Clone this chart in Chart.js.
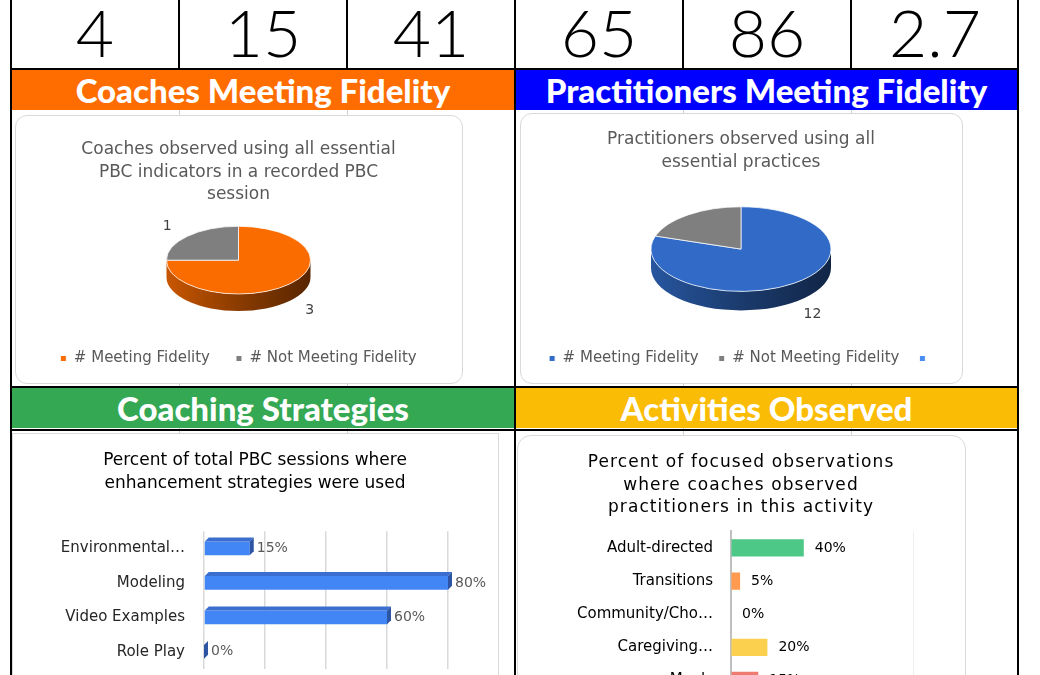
<!DOCTYPE html>
<html>
<head>
<meta charset="utf-8">
<script src="https://cdn.jsdelivr.net/npm/chart.js@4.4.1/dist/chart.umd.min.js"></script>
<style>
  html, body { margin: 0; padding: 0; background: #fff; overflow: hidden; }
  body { width: 1040px; height: 675px; position: relative; font-family: Lato, sans-serif; }
  .line { position: absolute; background: #000; }
  .faint { position: absolute; width: 1px; top: 110px; height: 565px; background: #d0d0d0; }
  .cell { position: absolute; top: 0; height: 68px; width: 166px; text-align: center; font-size: 66px; font-weight: 300; line-height: 64px; color: #000; }
  .band { position: absolute; height: 40px; color: #fff; font-weight: 900; font-size: 33px; line-height: 40px; text-align: center; }
  .box { position: absolute; background: #fff; border: 1px solid #d9d9d9; box-sizing: border-box; }
  canvas { position: absolute; }
</style>
</head>
<body>

<div class="faint" style="left:179px"></div>
<div class="faint" style="left:347px"></div>
<div class="faint" style="left:683px"></div>
<div class="faint" style="left:851px"></div>

<div id="numbers"></div>

<div class="band" style="left:12px; top:70px; width:502px; background:#FF6D01">Coaches Meeting Fidelity</div>
<div class="band" style="left:516px; top:70px; width:501px; background:#0000FF">Practitioners Meeting Fidelity</div>
<div class="band" style="left:12px; top:388px; width:502px; background:#34A853">Coaching Strategies</div>
<div class="band" style="left:516px; top:388px; width:501px; background:#FBBC05">Activities Observed</div>

<div class="box" style="left:15px; top:115px; width:448px; height:269px; border-radius:12px"></div>
<div class="box" style="left:520px; top:113px; width:443px; height:271px; border-radius:12px"></div>
<div class="box" style="left:12px; top:433px; width:487px; height:300px"></div>
<div class="box" style="left:517px; top:435px; width:449px; height:300px; border-radius:14px"></div>

<canvas id="coachPie" width="447" height="268" style="left:15px; top:115px"></canvas>
<canvas id="practPie" width="442" height="270" style="left:520px; top:113px"></canvas>
<canvas id="strategyBars" width="486" height="260" style="left:12px; top:433px"></canvas>
<canvas id="activityBars" width="448" height="280" style="left:517px; top:435px"></canvas>

<!-- table rules -->
<div class="line" style="left:10px; top:0; width:2px; height:675px"></div>
<div class="line" style="left:1017px; top:0; width:2px; height:675px"></div>
<div class="line" style="left:514px; top:0; width:2px; height:675px"></div>
<div class="line" style="left:178px; top:0; width:2px; height:68px"></div>
<div class="line" style="left:346px; top:0; width:2px; height:68px"></div>
<div class="line" style="left:682px; top:0; width:2px; height:68px"></div>
<div class="line" style="left:850px; top:0; width:2px; height:68px"></div>
<div class="line" style="left:10px; top:68px; width:1009px; height:2px"></div>
<div class="line" style="left:10px; top:386px; width:1009px; height:2px"></div>
<div class="line" style="left:10px; top:429px; width:1009px; height:2px"></div>

<script>
const headerNumbers = ['4', '15', '41', '65', '86', '2.7']

const fidelityLabels = ['# Meeting Fidelity', '# Not Meeting Fidelity']
const coachFidelity = [3, 1]
const coachValueText = ['3', '1']

const practFidelityLabels = ['# Meeting Fidelity', '# Not Meeting Fidelity', '']
const practFidelity = [12, 3, 0]
const practValueText = ['12', '', '']

const strategyLabels = ['Environmental…', 'Modeling', 'Video Examples', 'Role Play']
const strategyPercent = [15, 80, 60, 0]

const activityLabels = ['Adult-directed', 'Transitions', 'Community/Cho…', 'Caregiving…', 'Meals']
const activityPercent = [40, 5, 0, 20, 15]
const activityColors = ['#4DC886', '#FF9A4E', '#6FA8DC', '#FBD04E', '#EE7B6F']

// top row of numbers
const numbersRow = document.getElementById('numbers')
headerNumbers.forEach((num, i) => {
  const cell = document.createElement('div')
  cell.className = 'cell'
  cell.style.left = 12 + i * 168 + 'px'
  cell.textContent = num
  numbersRow.appendChild(cell)
})

const chartFont = '"DejaVu Sans", sans-serif'
Chart.defaults.font.family = chartFont
Chart.defaults.animation = false

function shade(hex, f) {
  const n = parseInt(hex.slice(1), 16)
  const r = Math.round(((n >> 16) & 255) * f)
  const g = Math.round(((n >> 8) & 255) * f)
  const b = Math.round((n & 255) * f)
  return `rgb(${r}, ${g}, ${b})`
}

// pie flattened to look like the 3D pie, with a side wall
const squashPie = {
  id: 'squashPie',
  beforeDatasetsDraw(chart, args, opts) {
    const ctx = chart.ctx
    const arcs = chart.getDatasetMeta(0).data
    const colors = chart.data.datasets[0].backgroundColor
    const { x, y, outerRadius: r } = arcs[0]
    const k = opts.squash
    const depth = opts.depth / k
    ctx.save()
    ctx.translate(x, y + opts.lift)
    ctx.scale(1, k)
    ctx.translate(-x, -y)
    arcs.forEach((arc, i) => {
      const a0 = Math.max(arc.startAngle, 0)
      const a1 = Math.min(arc.endAngle, Math.PI)
      if (a1 <= a0) return
      const grad = ctx.createLinearGradient(x - r, 0, x + r, 0)
      grad.addColorStop(0, shade(colors[i], 0.8))
      grad.addColorStop(0.5, shade(colors[i], 0.55))
      grad.addColorStop(1, shade(colors[i], 0.35))
      ctx.fillStyle = grad
      ctx.beginPath()
      ctx.arc(x, y, r, a0, a1)
      ctx.arc(x, y + depth, r, a1, a0, true)
      ctx.closePath()
      ctx.fill()
    })
  },
  afterDatasetsDraw(chart, args, opts) {
    const ctx = chart.ctx
    ctx.restore()
    const arcs = chart.getDatasetMeta(0).data
    ctx.save()
    ctx.font = `14px ${chartFont}`
    ctx.fillStyle = opts.color
    ctx.textAlign = 'center'
    ctx.textBaseline = 'middle'
    arcs.forEach((arc, i) => {
      if (!opts.valueText[i]) return
      const mid = (arc.startAngle + arc.endAngle) / 2
      const f = opts.labelRadius
      const px = arc.x + Math.cos(mid) * arc.outerRadius * f
      let py = arc.y + opts.lift + Math.sin(mid) * arc.outerRadius * f * opts.squash
      if (Math.sin(mid) > 0) py += opts.depth
      ctx.fillText(opts.valueText[i], px, py)
    })
    ctx.restore()
  }
}

// extruded look for the horizontal bars
const bar3d = {
  id: 'bar3d',
  afterDatasetsDraw(chart, args, opts) {
    const ctx = chart.ctx
    const d = opts.depth
    ctx.save()
    chart.getDatasetMeta(0).data.forEach(bar => {
      const top = bar.y - bar.height / 2
      const bottom = bar.y + bar.height / 2
      ctx.fillStyle = opts.topColor
      ctx.beginPath()
      ctx.moveTo(bar.base, top)
      ctx.lineTo(bar.base + d, top - d)
      ctx.lineTo(bar.x + d, top - d)
      ctx.lineTo(bar.x, top)
      ctx.closePath()
      ctx.fill()
      ctx.fillStyle = opts.sideColor
      ctx.beginPath()
      ctx.moveTo(bar.x, top)
      ctx.lineTo(bar.x + d, top - d)
      ctx.lineTo(bar.x + d, bottom - d)
      ctx.lineTo(bar.x, bottom)
      ctx.closePath()
      ctx.fill()
    })
    ctx.restore()
  }
}

const valueLabels = {
  id: 'valueLabels',
  afterDatasetsDraw(chart, args, opts) {
    const ctx = chart.ctx
    const values = chart.data.datasets[0].data
    ctx.save()
    ctx.font = `${opts.size}px ${chartFont}`
    ctx.fillStyle = opts.color
    ctx.textAlign = 'left'
    ctx.textBaseline = 'middle'
    chart.getDatasetMeta(0).data.forEach((bar, i) => {
      ctx.fillText(values[i] + '%', bar.x + opts.offset, bar.y)
    })
    ctx.restore()
  }
}

// wider tracking for the title only (axis labels are drawn later, on z 1)
const spacedTitle = {
  id: 'spacedTitle',
  beforeDraw(chart, args, opts) { chart.ctx.letterSpacing = opts.spacing },
  beforeDatasetsDraw(chart) { chart.ctx.letterSpacing = '0px' }
}

// fixed label column, and no extra room kept for the first/last label
function labelColumn(width) {
  return scale => {
    scale.width = width
    scale.paddingTop = 0
    scale.paddingBottom = 0
  }
}

new Chart(document.getElementById('coachPie'), {
  type: 'pie',
  data: {
    labels: fidelityLabels,
    datasets: [{
      data: coachFidelity,
      backgroundColor: ['#FA6B00', '#7F7F7F'],
      borderColor: '#ffffff',
      borderWidth: 1,
    }],
  },
  options: {
    responsive: false,
    radius: 72,
    layout: { padding: { bottom: 7 } },
    plugins: {
      title: {
        display: true,
        text: ['Coaches observed using all essential', 'PBC indicators in a recorded PBC', 'session'],
        color: '#595959',
        font: { size: 17, weight: 'normal', lineHeight: 1.3 },
        padding: { top: 24, bottom: -20 },
      },
      legend: {
        position: 'bottom',
        labels: { boxWidth: 6, boxHeight: 6, color: '#595959', font: { size: 15 }, padding: 26 },
      },
      tooltip: { enabled: false },
      squashPie: { squash: 0.47, depth: 17, lift: 5, labelRadius: 1.4, valueText: coachValueText, color: '#404040' },
    },
  },
  plugins: [squashPie],
})

new Chart(document.getElementById('practPie'), {
  type: 'pie',
  data: {
    labels: practFidelityLabels,
    datasets: [{
      data: practFidelity,
      backgroundColor: ['#316BC7', '#7F7F7F', '#4A8CF0'],
      borderColor: '#ffffff',
      borderWidth: 1,
    }],
  },
  options: {
    responsive: false,
    radius: 90,
    layout: { padding: { bottom: 7 } },
    plugins: {
      title: {
        display: true,
        text: ['Practitioners observed using all', 'essential practices'],
        color: '#595959',
        font: { size: 17, weight: 'normal', lineHeight: 1.3 },
        padding: { top: 16, bottom: -40 },
      },
      legend: {
        position: 'bottom',
        labels: { boxWidth: 6, boxHeight: 6, color: '#595959', font: { size: 15 }, padding: 20 },
      },
      tooltip: { enabled: false },
      squashPie: { squash: 0.47, depth: 19, lift: 17, labelRadius: 1.35, valueText: practValueText, color: '#404040' },
    },
  },
  plugins: [squashPie],
})

new Chart(document.getElementById('strategyBars'), {
  type: 'bar',
  data: {
    labels: strategyLabels,
    datasets: [{
      data: strategyPercent,
      backgroundColor: '#4285F4',
      categoryPercentage: 0.8,
      barPercentage: 0.5,
    }],
  },
  options: {
    indexAxis: 'y',
    responsive: false,
    layout: { padding: { left: 50, right: 50, bottom: 24 } },
    scales: {
      x: {
        min: 0,
        max: 80,
        ticks: { display: false, stepSize: 20 },
        grid: { color: '#D9D9D9', lineWidth: 1.5, drawTicks: false },
        border: { display: false },
      },
      y: {
        afterFit: labelColumn(142),
        ticks: { color: '#262626', font: { size: 15 }, padding: 19 },
        grid: { display: false, drawTicks: false },
        border: { display: false },
      },
    },
    plugins: {
      title: {
        display: true,
        text: ['Percent of total PBC sessions where', 'enhancement strategies were used'],
        color: '#000000',
        font: { size: 17, weight: 'normal', lineHeight: 1.3 },
        padding: { top: 17, bottom: 37 },
      },
      legend: { display: false },
      tooltip: { enabled: false },
      bar3d: { depth: 4, topColor: '#3B6FCF', sideColor: '#2D55A3' },
      valueLabels: { size: 14, color: '#595959', offset: 7 },
    },
  },
  plugins: [bar3d, valueLabels],
})

new Chart(document.getElementById('activityBars'), {
  type: 'bar',
  data: {
    labels: activityLabels,
    datasets: [{
      data: activityPercent,
      backgroundColor: activityColors,
      categoryPercentage: 0.8,
      barPercentage: 0.65,
    }],
  },
  options: {
    indexAxis: 'y',
    responsive: false,
    layout: { padding: { left: 52, right: 52, bottom: 18 } },
    scales: {
      x: {
        min: 0,
        max: 100,
        ticks: { display: false, stepSize: 100 },
        grid: { color: '#EEEEEE', lineWidth: 1, drawTicks: false },
        border: { display: false },
      },
      y: {
        afterFit: labelColumn(162),
        ticks: { color: '#000000', font: { size: 15 }, padding: 18, z: 1 },
        grid: { display: false, drawTicks: false },
        border: { color: '#BFBFBF', width: 2 },
      },
    },
    plugins: {
      title: {
        display: true,
        text: ['Percent of focused observations', 'where coaches observed', 'practitioners in this activity'],
        color: '#000000',
        font: { size: 17, weight: 'normal', lineHeight: 1.3 },
        padding: { top: 17, bottom: 13 },
      },
      legend: { display: false },
      tooltip: { enabled: false },
      spacedTitle: { spacing: '1.1px' },
      valueLabels: { size: 14, color: '#000000', offset: 11 },
    },
  },
  plugins: [spacedTitle, valueLabels],
})
</script>
</body>
</html>
